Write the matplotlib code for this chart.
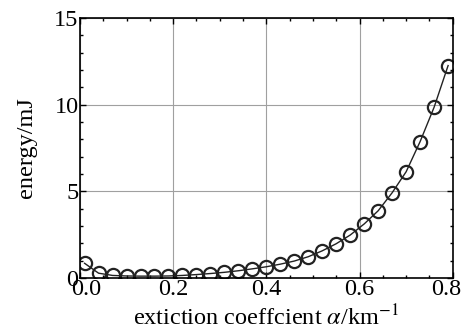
import matplotlib.pyplot as plt
import matplotlib.transforms as mtransforms
from matplotlib.ticker import MultipleLocator

plt.rcParams['font.family'] = ['Liberation Serif', 'DejaVu Serif']
plt.rcParams['mathtext.fontset'] = 'stix'

# extinction coefficient (1/km) and pulse energy (mJ)
alpha = [0.01, 0.04, 0.07, 0.10, 0.13, 0.16, 0.19, 0.22, 0.25, 0.28,
         0.31, 0.34, 0.37, 0.40, 0.43, 0.46, 0.49, 0.52, 0.55, 0.58,
         0.61, 0.64, 0.67, 0.70, 0.73, 0.76, 0.79]
energy = [0.85, 0.28, 0.15, 0.12, 0.11, 0.11, 0.12, 0.15, 0.20, 0.26,
          0.33, 0.42, 0.53, 0.65, 0.80, 0.98, 1.23, 1.57, 1.98, 2.48,
          3.12, 3.88, 4.92, 6.13, 7.87, 9.85, 12.25]
xticks = [0.0, 0.2, 0.4, 0.6, 0.8]
xticklabels = ['0.0', '0.2', '0.4', '0.6', '0.8']
yticks = [0, 5, 10, 15]

fig = plt.figure(figsize=(4.62, 3.31), dpi=100)
ax = fig.add_axes([0.173, 0.16, 0.807, 0.786])

ax.plot(alpha, energy, color='#222222', lw=1.0, marker='o', ms=9.5,
        mfc='none', mec='#222222', mew=1.6)

ax.set_xlim(0, 0.8)
ax.set_ylim(0, 15)
ax.set_xticks(xticks, xticklabels)
ax.set_yticks(yticks)
ax.xaxis.set_minor_locator(MultipleLocator(0.05))
ax.yaxis.set_minor_locator(MultipleLocator(1))

ax.tick_params(which='both', direction='in', top=True, right=True, labelsize=17.5, pad=1)
ax.tick_params(which='major', length=4, width=1)
ax.tick_params(which='minor', length=2.5, width=1)
ax.grid(True, which='major', color='#a0a0a0', lw=0.8)
for s in ax.spines.values():
    s.set_linewidth(1.2)

# nudge the end labels inward so they stay inside the figure
xlabels = ax.get_xticklabels()
shift = 4.5 / 72
xlabels[0].set_transform(xlabels[0].get_transform() +
                         mtransforms.ScaledTranslation(shift, 0, fig.dpi_scale_trans))
xlabels[-1].set_transform(xlabels[-1].get_transform() +
                          mtransforms.ScaledTranslation(-shift, 0, fig.dpi_scale_trans))

ax.set_xlabel(r'extiction coeffcient $\alpha$/km$^{-1}$', fontsize=17.5, labelpad=3)
ax.set_ylabel('energy/mJ', fontsize=17.5, labelpad=12)

fig.savefig('out.png', dpi=100)
